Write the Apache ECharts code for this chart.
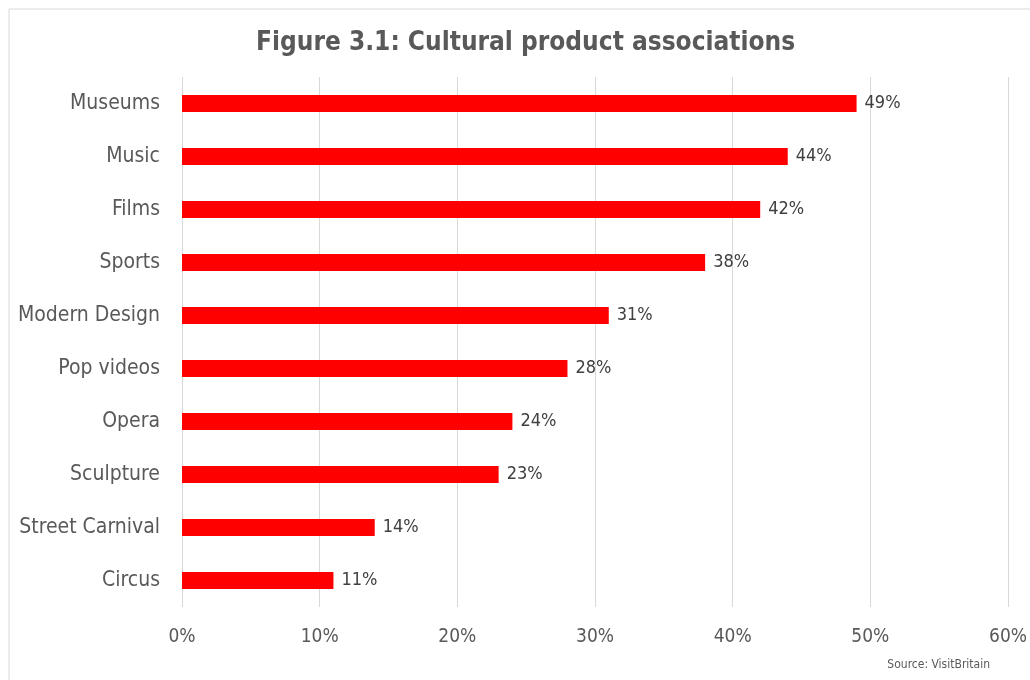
<!DOCTYPE html>
<html><head><meta charset="utf-8">
<script src="https://cdn.jsdelivr.net/npm/echarts@6/dist/echarts.min.js"></script>
<style>html,body{margin:0;padding:0;background:#fff}#c{width:1030px;height:680px}</style>
</head><body><div id="c"></div>
<script>
const categories = ["Museums","Music","Films","Sports","Modern Design","Pop videos","Opera","Sculpture","Street Carnival","Circus"];
const values = [49,44,42,38,31,28,24,23,14,11];
const xTicks = [0,10,20,30,40,50,60];
const FONT = "'Liberation Sans Narrow','DejaVu Sans Condensed','Liberation Sans',sans-serif";
const chart = echarts.init(document.getElementById('c'));
chart.setOption({
  animation:false,
  title:{text:'Figure 3.1: Cultural product associations',left:251,top:25,
    textStyle:{fontFamily:FONT,fontSize:26,fontWeight:'bold',color:'#595959'}},
  graphic:[
    {type:'rect',shape:{x:9,y:9,width:1100,height:720},style:{fill:'none',stroke:'#d9d9d9',lineWidth:1},silent:true},
    {type:'text',right:40,top:659,style:{text:'Source: VisitBritain',fontFamily:FONT,fontSize:12,fill:'#595959'}}
  ],
  grid:{left:182,right:21,top:77,bottom:73,containLabel:false},
  xAxis:{type:'value',min:0,max:60,interval:10,
    axisLine:{show:false},axisTick:{show:false},
    splitLine:{lineStyle:{color:'#d9d9d9',width:1}},
    axisLabel:{formatter:v=>v+'%',fontFamily:FONT,fontSize:19,color:'#595959',margin:21}},
  yAxis:{type:'category',data:categories,inverse:true,
    axisLine:{show:false},axisTick:{show:false},
    axisLabel:{fontFamily:FONT,fontSize:21,color:'#595959',margin:22}},
  series:[{type:'bar',data:values,barWidth:17,
    itemStyle:{color:'#ff0000'},
    label:{show:true,position:'right',distance:8,formatter:p=>p.value+'%',fontFamily:FONT,fontSize:18,color:'#404040'}}]
});
</script></body></html>
